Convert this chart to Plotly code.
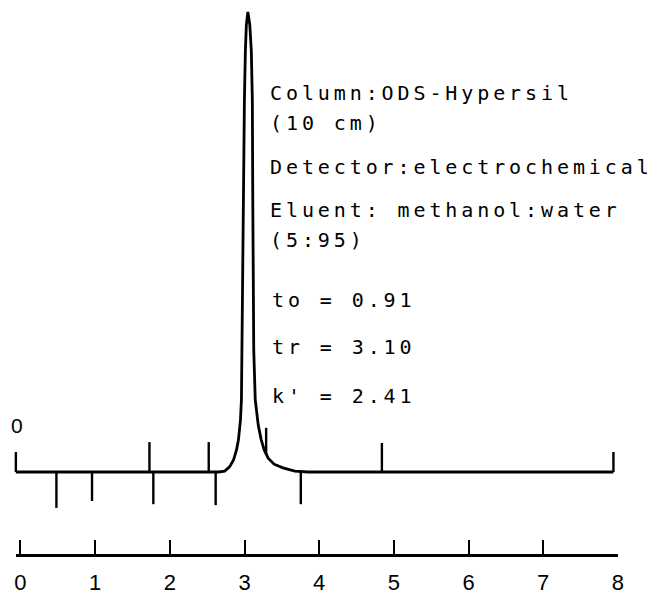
import plotly.graph_objects as go

# ---- data (time in min, signal in % of peak height) ----
time_min = [-0.062, 2.654, 2.734, 2.800, 2.853, 2.893, 2.919, 2.946, 2.959, 2.965,
            2.979, 2.985, 2.999, 3.012, 3.025, 3.045, 3.071, 3.091, 3.105, 3.111,
            3.115, 3.124, 3.144, 3.184, 3.224, 3.264, 3.317, 3.396, 3.515, 3.674,
            3.846, 7.941]
signal = [0, 0, 0.2, 1.1, 2.6, 4.8, 7.0, 11.3, 15.7, 26.5,
          37.4, 59.1, 80.9, 91.7, 97.2, 100, 97.2, 91.7, 80.9, 59.1,
          37.4, 26.5, 15.7, 10.2, 7.0, 4.8, 3.0, 1.7, 0.9, 0.2,
          0, 0]

# event marks drawn above the baseline
up_mark_time = [-0.062, 1.727, 2.521, 4.840, 7.941]
up_mark_height = [4.35, 6.5, 6.5, 6.3, 4.35]
# event marks drawn below the baseline
down_mark_time = [0.481, 0.958, 1.779, 2.614, 3.754]
down_mark_depth = [-7.8, -6.3, -7.0, -7.2, -7.0]
# mark on the tail of the peak
tail_mark_time = [3.290]
tail_mark_low = [3.7]
tail_mark_high = [9.6]

axis_ticks = [0, 1, 2, 3, 4, 5, 6, 7, 8]
axis_labels = ["0", "1", "2", "3", "4", "5", "6", "7", "8"]

info_lines = ["Column:ODS-Hypersil", "(10 cm)", "Detector:electrochemical",
              "Eluent: methanol:water", "(5:95)", "to = 0.91", "tr = 3.10", "k' = 2.41"]
info_level = [82.4, 75.9, 66.3, 57.0, 50.4, 37.4, 27.2, 16.5]
zero_label = "0"

# ---- build figure ----
W, H = 659, 595
PX_PER_MIN = 75.47
X0_PX = 19.7           # pixel of t = 0
PX_PER_UNIT = 4.6
BASE_PX = 472          # pixel row of signal = 0


def t_at(px):
    return (px - X0_PX) / PX_PER_MIN


def v_at(py):
    return (BASE_PX - py) / PX_PER_UNIT


mono = "DejaVu Sans Mono"
sans = "Liberation Sans, Arial"

fig = go.Figure()

fig.add_trace(go.Scatter(x=time_min, y=signal, mode="lines",
                         line=dict(color="black", width=2.8),
                         xaxis="x", yaxis="y", hoverinfo="skip"))

mx, my = [], []
for t, h in zip(up_mark_time, up_mark_height):
    mx += [t, t, None]
    my += [0, h, None]
for t, d in zip(down_mark_time, down_mark_depth):
    mx += [t, t, None]
    my += [0, d, None]
for t, a, b in zip(tail_mark_time, tail_mark_low, tail_mark_high):
    mx += [t, t, None]
    my += [a, b, None]
fig.add_trace(go.Scatter(x=mx, y=my, mode="lines",
                         line=dict(color="black", width=2.4),
                         xaxis="x", yaxis="y", hoverinfo="skip"))

# invisible carrier so that the time axis (x2) gets drawn
fig.add_trace(go.Scatter(x=axis_ticks, y=[v_at(555)] * len(axis_ticks), mode="markers",
                         marker=dict(size=1, opacity=0), xaxis="x2", yaxis="y",
                         hoverinfo="skip"))

annotations = []
for i, (txt, lv) in enumerate(zip(info_lines, info_level)):
    xpx = 272 if i < 5 else 274
    annotations.append(dict(
        x=t_at(xpx), y=lv, xref="x", yref="y", xanchor="left", yanchor="middle",
        text='<span style="letter-spacing:3.9px">' + txt.replace("'", "&#39;") + '</span>',
        showarrow=False, borderpad=0, borderwidth=0,
        font=dict(family=mono, size=20, color="black")))
annotations.append(dict(x=t_at(16), y=v_at(425), xref="x", yref="y",
                        xanchor="center", yanchor="middle", text=zero_label,
                        showarrow=False, borderpad=0, borderwidth=0,
                        font=dict(family=sans, size=21, color="black")))

fig.update_layout(
    width=W, height=H, margin=dict(l=0, r=0, t=0, b=0),
    paper_bgcolor="white", plot_bgcolor="rgba(0,0,0,0)", showlegend=False,
    xaxis=dict(domain=[0, 1], range=[t_at(0), t_at(W)], anchor="y",
               visible=False, showgrid=False, zeroline=False, fixedrange=True),
    xaxis2=dict(domain=[15 / W, 624 / W], range=[t_at(15), t_at(624)],
                anchor="free", position=(H - 555) / H,
                showline=True, linecolor="black", linewidth=2.5,
                ticks="inside", ticklen=14, tickwidth=2, tickcolor="black",
                tickvals=axis_ticks, ticktext=axis_labels, ticklabelstandoff=7,
                tickfont=dict(family=sans, size=22, color="black"),
                showgrid=False, zeroline=False, fixedrange=True),
    yaxis=dict(domain=[0, 1], range=[v_at(H), v_at(0)], visible=False,
               showgrid=False, zeroline=False, fixedrange=True),
    annotations=annotations,
)

fig.write_html("out.html", config={"displayModeBar": False},
               post_script="document.body.style.margin='0';")
